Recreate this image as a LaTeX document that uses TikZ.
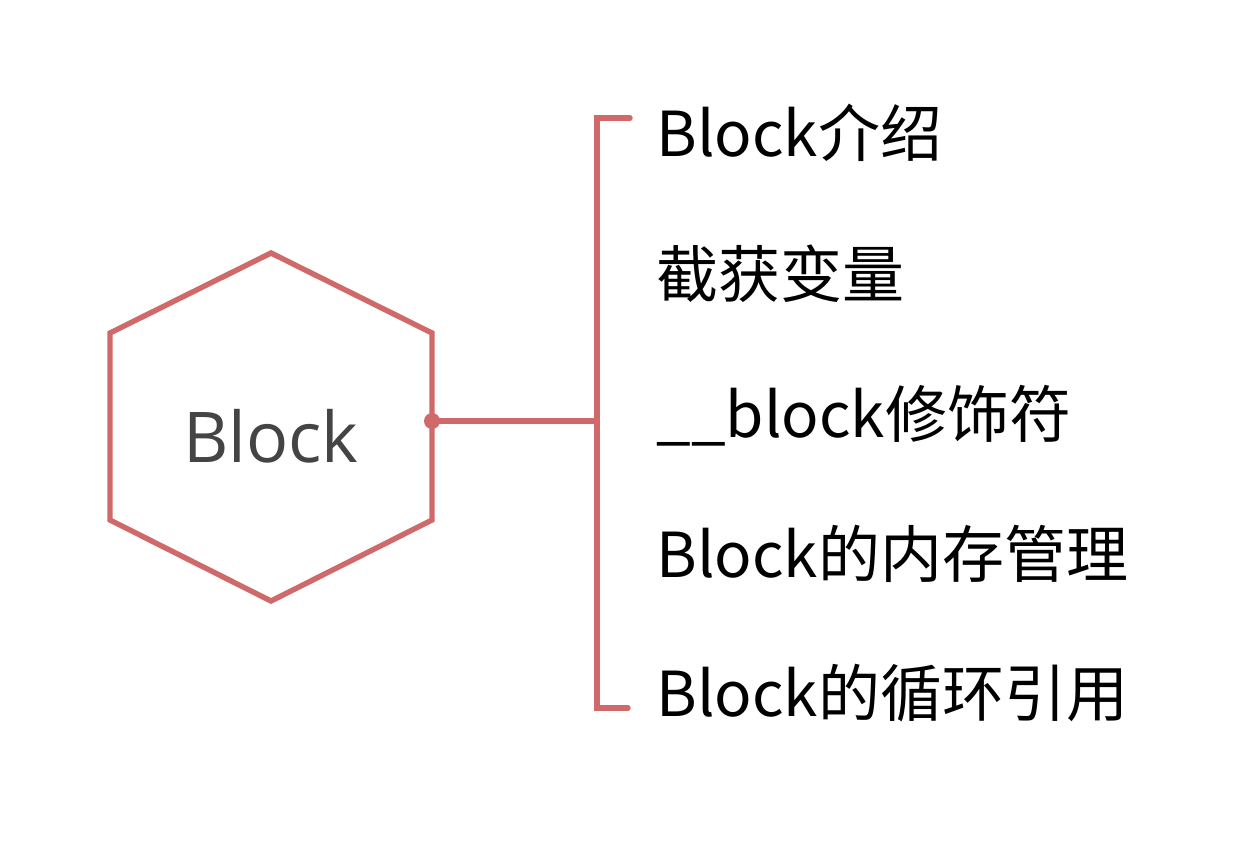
\documentclass[tikz,border=0pt]{standalone}
\usepackage{fontspec}
\setmainfont{Noto Sans CJK SC}
\newfontfamily\hexfont{Open Sans}
\usepackage{tikz}
\usetikzlibrary{positioning, calc}
\definecolor{hexred}{RGB}{208,106,106}
\definecolor{hexgray}{RGB}{68,68,68}

\begin{document}
\begin{tikzpicture}[x=0.5pt, y=-0.5pt,
    redline/.style={draw=hexred, line width=2.7pt},
    item/.style={anchor=base west, inner sep=0pt, font=\fontsize{31}{38}\selectfont}]
  \useasboundingbox (0,0) rectangle (1240,852);
  % Hexagon
  \draw[redline, line join=miter] (271,253) -- (432,333) -- (432,520) -- (271,601)
    -- (110,520) -- (110,333) -- cycle;
  \node[text=hexgray, font=\hexfont\fontsize{35}{42}\selectfont] (hex) at (271,436) {Block};
  \coordinate (hexR) at (432,421);
  % Bracket
  \coordinate (brTop) at (597,118);
  \coordinate (brBot) at (597,708);
  \coordinate (brMid) at (597,421);
  \draw[redline, line cap=round] ($(brTop)+(33,0)$) -- (brTop) -- (brBot) -- ($(brBot)+(31,0)$);
  \draw[redline] (hexR) -- (brMid);
  \fill[hexred] (hexR) circle (4pt);
  % Items
  \foreach \n/\y/\txt in {1/156/Block介绍, 2/297/截获变量, 3/437/\_\_block修饰符,
                          4/577/Block的内存管理, 5/716/Block的循环引用}
    \node[item] (item\n) at (656,\y) {\txt};
\end{tikzpicture}
\end{document}
